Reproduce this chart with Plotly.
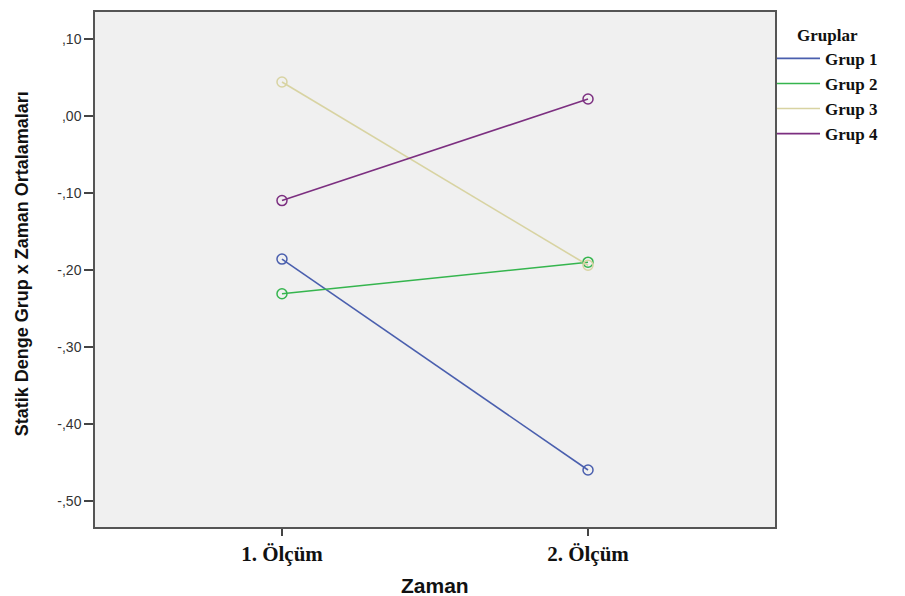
import plotly.graph_objects as go

categories = ["1. Ölçüm", "2. Ölçüm"]
groups = ["Grup 1", "Grup 2", "Grup 3", "Grup 4"]
grup1 = [-0.186, -0.460]
grup2 = [-0.231, -0.190]
grup3 = [0.044, -0.194]
grup4 = [-0.110, 0.022]
series = [grup1, grup2, grup3, grup4]
colors = ["#4A5FAE", "#35B54E", "#D8D3A2", "#7C2F80"]

yticks = [0.10, 0.0, -0.10, -0.20, -0.30, -0.40, -0.50]
yticklabels = [",10", ",00", "-,10", "-,20", "-,30", "-,40", "-,50"]

fig = go.Figure()
for name, vals, c in zip(groups, series, colors):
    fig.add_trace(go.Scatter(
        x=categories, y=vals, mode="lines", name="<b>" + name + "</b>",
        line=dict(color=c, width=1.6), showlegend=True,
    ))
for name, vals, c in zip(groups, series, colors):
    fig.add_trace(go.Scatter(
        x=categories, y=vals, mode="markers", name=name,
        marker=dict(symbol="circle-open", size=10, color=c, line=dict(width=1.5)),
        showlegend=False,
    ))

# page body has an 8px margin; figure sized so the plot lands where the reference has it
W, H = 897, 588
L, R, T, B = 87, 130, 4, 69
pw = W - L - R

fig.update_layout(
    width=W, height=H,
    margin=dict(l=L, r=R, t=T, b=B, autoexpand=False),
    paper_bgcolor="white",
    plot_bgcolor="#F0F0F0",
    showlegend=True,
    legend=dict(
        x=1 - 3 / pw, y=0.987, xanchor="left", yanchor="top",
        title=dict(text="<b>Gruplar</b>", side="top center",
                   font=dict(family="Liberation Serif", size=17, color="#111")),
        font=dict(family="Liberation Serif", size=17, color="#111"),
        tracegroupgap=0, itemwidth=43,
        bgcolor="rgba(0,0,0,0)",
    ),
    xaxis=dict(
        type="category",
        range=[-0.611, 1.611],
        tickvals=categories,
        ticktext=["<b>" + c + "</b>" for c in categories],
        tickfont=dict(family="Liberation Serif", size=21, color="#111"),
        ticks="outside", ticklen=7, tickcolor="#444", tickwidth=1.5,
        showgrid=False, zeroline=False, automargin=False,
        showline=True, linecolor="#555", linewidth=1.5, mirror=True,
    ),
    yaxis=dict(
        range=[-0.534, 0.135],
        tickvals=yticks,
        ticktext=yticklabels,
        tickfont=dict(family="Liberation Sans", size=14, color="#333"),
        ticks="outside", ticklen=9, tickcolor="#444", tickwidth=1.5,
        showgrid=False, zeroline=False, automargin=False,
        showline=True, linecolor="#555", linewidth=1.5, mirror=True,
    ),
    annotations=[
        dict(text="<b>Statik Denge Grup x Zaman Ortalamaları</b>", textangle=-90,
             xref="paper", yref="paper", x=(22 - 8 - L) / pw, y=0.51,
             xanchor="center", yanchor="middle", showarrow=False,
             font=dict(family="Liberation Sans", size=18, color="#111")),
        dict(text="<b>Zaman</b>",
             xref="paper", yref="paper", x=0.5, y=-(585 - 8 - (H - B)) / (H - B - T),
             xanchor="center", yanchor="middle", showarrow=False,
             font=dict(family="Liberation Sans", size=21, color="#111")),
    ],
)

fig.write_html("out.html")
